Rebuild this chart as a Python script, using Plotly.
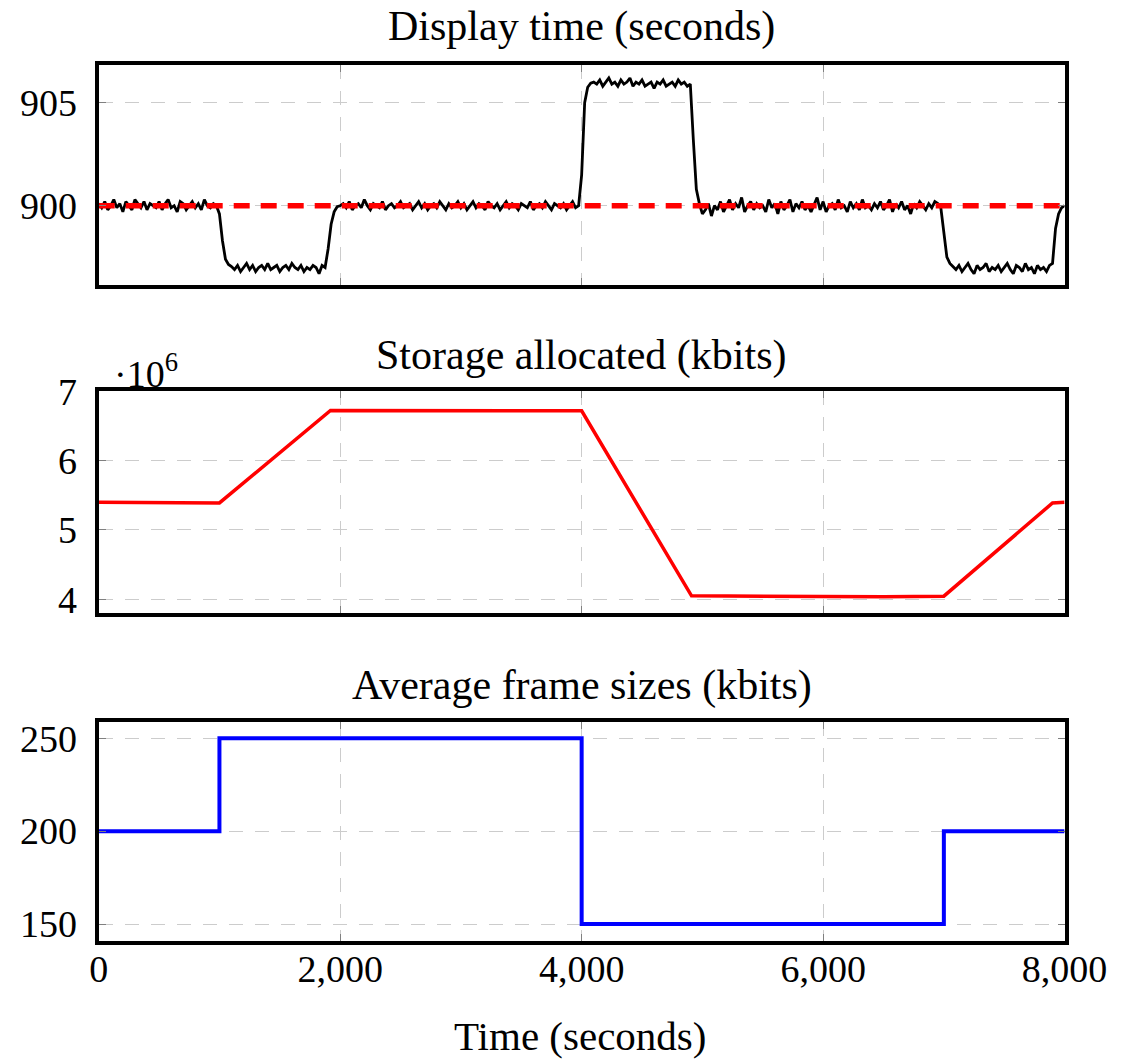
import plotly.graph_objects as go

# ---------------- data ----------------
display_time = list(range(0, 8001, 25))
display_seconds = [
    # 0 .. 475
    900.1, 899.9, 900.2, 899.8, 900.0, 900.3, 899.9, 900.1, 899.7, 900.2, 900.0, 899.8, 900.3, 900.1, 899.9, 900.2, 899.8, 900.1, 900.0, 899.9,
    # 500 .. 975
    900.2, 899.8, 900.1, 900.3, 899.9, 900.0, 899.7, 900.2, 900.1, 899.8, 900.0, 900.2, 899.9, 900.1, 899.8, 900.3, 900.0, 899.9, 900.1, 900.0,
    # 1000 .. 1475
    899.6, 898.3, 897.4, 897.15, 897.05, 896.9, 897.1, 896.8, 897.0, 897.2, 896.9, 897.1, 896.8, 897.0, 897.1, 896.9, 897.2, 896.9, 897.0, 897.1,
    # 1500 .. 1975
    896.8, 897.0, 897.1, 896.9, 897.2, 897.0, 896.9, 897.1, 896.8, 897.0, 896.9, 897.1, 897.0, 896.7, 897.1, 897.0, 897.9, 899.1, 899.7, 899.95,
    # 2000 .. 2475
    900.0, 900.1, 899.9, 900.2, 899.8, 900.0, 900.1, 899.9, 900.3, 900.0, 899.8, 900.1, 900.0, 899.9, 900.2, 899.8, 900.0, 900.1, 899.9, 900.0,
    # 2500 .. 2975
    900.2, 899.9, 900.0, 900.1, 899.8, 900.0, 900.2, 899.9, 900.1, 899.8, 900.0, 900.1, 899.9, 900.2, 900.0, 899.8, 900.1, 899.9, 900.0, 900.2,
    # 3000 .. 3475
    899.9, 900.1, 899.8, 900.0, 900.2, 899.9, 900.1, 900.0, 899.8, 900.2, 900.0, 899.9, 900.1, 899.8, 900.0, 900.2, 899.9, 900.1, 900.0, 899.8,
    # 3500 .. 3975
    900.1, 900.0, 899.9, 900.2, 899.8, 900.0, 900.1, 899.9, 900.2, 900.0, 899.8, 900.1, 900.0, 899.9, 900.1, 899.8, 900.0, 900.2, 899.9, 900.0,
    # 4000 .. 4475
    901.5, 905.0, 905.75, 905.95, 906.0, 905.9, 906.1, 905.8, 906.0, 906.2, 905.9, 906.0, 905.8, 906.1, 905.9, 906.0, 906.2, 905.8, 906.0, 905.9,
    # 4500 .. 4975
    906.1, 905.8, 905.9, 906.0, 905.7, 906.0, 905.9, 906.1, 905.8, 905.9, 906.0, 905.8, 906.1, 905.9, 906.0, 905.8, 905.9, 903.2, 900.8, 900.1,
    # 5000 .. 5475
    899.6, 899.8, 900.1, 899.5, 900.0, 899.8, 900.2, 899.7, 900.0, 900.3, 899.8, 900.1, 899.9, 900.4, 899.7, 900.0, 900.2, 899.8, 900.1, 899.9,
    # 5500 .. 5975
    900.0, 899.7, 900.3, 899.9, 900.1, 899.6, 900.2, 899.8, 900.0, 900.3, 899.7, 900.1, 899.9, 900.2, 899.8, 900.0, 899.7, 900.1, 900.4, 899.8,
    # 6000 .. 6475
    900.2, 899.7, 900.0, 900.1, 899.8, 900.3, 899.9, 900.0, 899.7, 900.2, 899.9, 900.1, 899.8, 900.3, 899.9, 900.0, 899.8, 900.1, 899.9, 900.2,
    # 6500 .. 6975
    899.8, 900.0, 900.3, 899.7, 900.1, 899.9, 900.2, 899.8, 900.0, 899.6, 900.1, 899.9, 900.2, 900.0, 899.8, 900.1, 899.9, 900.2, 900.1, 899.9,
    # 7000 .. 7475
    898.6, 897.5, 897.2, 897.05, 896.9, 897.1, 896.8, 897.0, 897.2, 896.9, 896.7, 897.1, 896.9, 897.0, 897.2, 896.8, 897.0, 896.9, 897.1, 896.8,
    # 7500 .. 7975
    897.0, 897.2, 896.9, 896.7, 897.1, 897.0, 896.8, 897.2, 896.9, 897.0, 896.7, 897.1, 896.9, 897.0, 896.8, 897.1, 897.2, 898.9, 899.6, 899.9,
    # 8000
    900.0,
]
target_time = [0, 8000]
target_seconds = [900, 900]

storage_time = [0, 1000, 1920, 4000, 4910, 5800, 6500, 7000, 7900, 8000]
storage_kbits = [5.40e6, 5.39e6, 6.725e6, 6.72e6, 4.05e6, 4.045e6, 4.035e6, 4.045e6, 5.39e6, 5.40e6]

frame_time = [0, 1000, 4000, 7000, 8000]
frame_kbits = [200, 250, 150, 200, 200]

panel_titles = ["Display time (seconds)", "Storage allocated (kbits)", "Average frame sizes (kbits)"]
x_title = "Time (seconds)"
x_ticks = [0, 2000, 4000, 6000, 8000]
y1_ticks = [900, 905]
y2_ticks = [4e6, 5e6, 6e6, 7e6]
y2_ticktext = ["4", "5", "6", "7"]
y3_ticks = [150, 200, 250]
y2_multiplier = "·10<sup>6</sup>"

# ---------------- layout helpers ----------------
W, H = 1133, 1061
FONT = "Liberation Serif"


def fx(p):
    return p / W


def fy(p):
    return 1 - p / H


left_px, right_px = 98.7, 1064.6
panels_px = [(65, 284.5), (391.4, 613), (721.7, 941)]
yranges = [[896.175, 906.83], [3.802e6, 7.0e6], [140.85, 258.94]]

fig = go.Figure()

fig.add_trace(go.Scatter(x=display_time, y=display_seconds, mode="lines",
                         line=dict(color="black", width=2.8), xaxis="x", yaxis="y"))
fig.add_trace(go.Scatter(x=target_time, y=target_seconds, mode="lines",
                         line=dict(color="#ff0000", width=5.5, dash="16px,11px"), xaxis="x", yaxis="y"))
fig.add_trace(go.Scatter(x=storage_time, y=storage_kbits, mode="lines",
                         line=dict(color="#ff0000", width=3.5), xaxis="x2", yaxis="y2"))
fig.add_trace(go.Scatter(x=frame_time, y=frame_kbits, mode="lines", line_shape="hv",
                         line=dict(color="#0000ff", width=4), xaxis="x3", yaxis="y3"))

common = dict(showline=True, linecolor="black", linewidth=4, mirror="ticks",
              ticks="inside", ticklen=7, tickcolor="#808080", tickwidth=1,
              showgrid=True, gridcolor="#cccccc", gridwidth=1, griddash="14px,12px",
              zeroline=False, automargin=False,
              tickfont=dict(family=FONT, size=38, color="black"))

xdom = [fx(left_px), fx(right_px)]
layout = dict(width=W, height=H, margin=dict(l=0, r=0, t=0, b=0),
              paper_bgcolor="white", plot_bgcolor="white", showlegend=False)

for i, (top, bot) in enumerate(panels_px):
    sfx = "" if i == 0 else str(i + 1)
    xa = dict(common, domain=xdom, range=[0, 8000], tickvals=x_ticks,
              anchor="y" + sfx, showticklabels=(i == 2), tickformat=",d",
              ticklabelstandoff=-9)
    if i > 0:
        xa["matches"] = "x"
    ya = dict(common, domain=[fy(bot), fy(top)], range=yranges[i], anchor="x" + sfx,
              ticklabelstandoff=10)
    if i == 0:
        ya["tickvals"] = y1_ticks
    elif i == 1:
        ya["tickvals"] = y2_ticks
        ya["ticktext"] = y2_ticktext
    else:
        ya["tickvals"] = y3_ticks
    layout["xaxis" + sfx] = xa
    layout["yaxis" + sfx] = ya

annotations = []
title_y = [27, 355, 685]
for t, yy in zip(panel_titles, title_y):
    annotations.append(dict(text=t, x=fx((left_px + right_px) / 2), y=fy(yy), xref="paper", yref="paper",
                            xanchor="center", yanchor="middle", showarrow=False,
                            font=dict(family=FONT, size=42, color="black")))
annotations.append(dict(text=x_title, x=fx(580), y=0, xref="paper", yref="paper",
                        xanchor="center", yanchor="bottom", showarrow=False,
                        font=dict(family=FONT, size=41, color="black")))
annotations.append(dict(text=y2_multiplier, x=fx(112), y=fy(371), xref="paper", yref="paper",
                        xanchor="left", yanchor="middle", showarrow=False,
                        font=dict(family=FONT, size=38, color="black")))
layout["annotations"] = annotations

fig.update_layout(**layout)
fig.write_html("out.html", config={"displayModeBar": False},
               post_script="document.body.style.margin='0px';document.body.style.overflow='hidden';")
